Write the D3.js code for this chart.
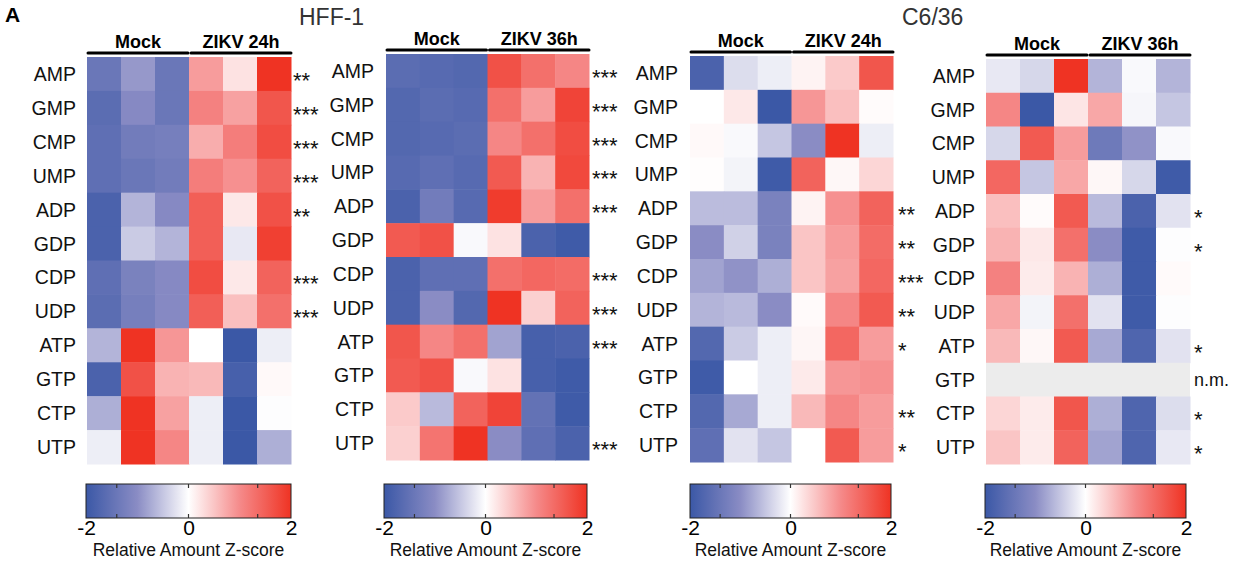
<!DOCTYPE html>
<html>
<head>
<meta charset="utf-8">
<script src="https://cdn.jsdelivr.net/npm/d3@7"></script>
<style>
  body { margin: 0; background: #fff; }
  svg { font-family: "Liberation Sans", Arial, Helvetica, sans-serif; }
</style>
</head>
<body>
<svg width="1239" height="567"></svg>
<script>
const rows = ['AMP', 'GMP', 'CMP', 'UMP', 'ADP', 'GDP', 'CDP', 'UDP', 'ATP', 'GTP', 'CTP', 'UTP'];
const groups24 = ['Mock', 'ZIKV 24h'];
const groups36 = ['Mock', 'ZIKV 36h'];
const legendTicks = [-2, 0, 2];
const legendMarks = [-1.4, 0, 1.35];

// z-scores, 3 mock + 3 ZIKV replicates per metabolite
const hff24 = [
  [-1.4, -0.9, -1.4, 0.85, 0.25, 2.0],
  [-1.6, -1.05, -1.4, 1.1, 0.8, 1.6],
  [-1.55, -1.3, -1.25, 0.7, 1.15, 1.7],
  [-1.55, -1.4, -1.3, 1.15, 0.95, 1.45],
  [-1.8, -0.65, -1.05, 1.5, 0.2, 1.65],
  [-1.8, -0.45, -0.65, 1.5, -0.2, 1.85],
  [-1.55, -1.2, -1.05, 1.7, 0.2, 1.45],
  [-1.6, -1.25, -1.05, 1.5, 0.55, 1.3],
  [-0.65, 2.0, 0.9, 0, -2.0, -0.15],
  [-1.8, 1.65, 0.65, 0.6, -1.85, 0.05],
  [-0.7, 2.0, 0.8, -0.15, -2.0, -0.02],
  [-0.15, 2.0, 1.05, -0.15, -2.0, -0.7]
];
const hff24Stars = ['**', '***', '***', '***', '**', '', '***', '***', '', '', '', ''];

const hff36 = [
  [-1.6, -1.65, -1.7, 1.65, 1.3, 1.05],
  [-1.7, -1.6, -1.65, 1.3, 0.85, 1.8],
  [-1.7, -1.65, -1.6, 1.05, 1.3, 1.7],
  [-1.65, -1.55, -1.65, 1.55, 0.65, 1.75],
  [-1.8, -1.3, -1.65, 1.9, 0.85, 1.3],
  [1.55, 1.65, -0.05, 0.25, -1.8, -1.95],
  [-1.8, -1.55, -1.55, 1.3, 1.4, 1.35],
  [-1.8, -1.0, -1.7, 2.0, 0.4, 1.45],
  [1.6, 1.05, 1.3, -0.8, -1.85, -1.8],
  [1.55, 1.65, -0.05, 0.25, -1.85, -1.95],
  [0.45, -0.6, 1.45, 1.8, -1.5, -1.95],
  [0.4, 1.25, 2.0, -1.0, -1.55, -1.8]
];
const hff36Stars = ['***', '***', '***', '***', '***', '', '***', '***', '***', '', '', '***'];

const c6h24 = [
  [-1.8, -0.3, -0.15, 0.1, 0.45, 1.6],
  [0, 0.2, -2.0, 0.9, 0.55, 0.03],
  [0.05, -0.05, -0.5, -1.0, 2.0, -0.15],
  [0.02, -0.1, -1.95, 1.45, 0.07, 0.35],
  [-0.58, -0.58, -1.2, 0.1, 0.95, 1.45],
  [-1.0, -0.4, -1.2, 0.5, 0.85, 1.35],
  [-0.8, -0.95, -0.7, 0.5, 0.8, 1.4],
  [-0.65, -0.6, -1.0, 0.04, 1.05, 1.55],
  [-1.7, -0.45, -0.15, 0.08, 1.4, 0.85],
  [-1.95, 0, -0.15, 0.18, 0.9, 0.95],
  [-1.7, -0.75, -0.15, 0.6, 1.05, 0.85],
  [-1.55, -0.25, -0.5, 0, 1.55, 0.85]
];
const c6h24Stars = ['', '', '', '', '**', '**', '***', '**', '*', '', '**', '*'];

const c6h36 = [
  [-0.2, -0.35, 2.0, -0.65, -0.05, -0.65],
  [1.05, -2.0, 0.22, 0.75, -0.08, -0.5],
  [-0.35, 1.55, 0.85, -1.35, -0.95, -0.05],
  [1.4, -0.5, 0.75, 0.07, -0.35, -1.95],
  [0.55, 0.03, 1.55, -0.6, -1.8, -0.25],
  [0.65, 0.2, 1.3, -1.0, -1.95, -0.02],
  [1.1, 0.17, 0.65, -0.7, -1.95, 0.04],
  [0.75, -0.1, 1.3, -0.25, -1.95, -0.02],
  [0.6, 0.07, 1.55, -0.75, -1.75, -0.25],
  null,
  [0.35, 0.17, 1.6, -0.7, -1.75, -0.3],
  [0.5, 0.17, 1.45, -0.8, -1.75, -0.2]
];
const c6h36Stars = ['', '', '', '', '*', '*', '', '', '*', 'n.m.', '*', '*'];

const svg = d3.select('svg');

const color = d3.scaleLinear()
  .domain([-2, -1, 0, 1, 2])
  .range(['#3b58a6', '#8a8cc4', '#ffffff', '#f58a8a', '#ef3323'])
  .clamp(true);

// gradient for the colour bars
const grad = svg.append('defs').append('linearGradient').attr('id', 'zgrad');
d3.range(-2, 2.01, 0.25).forEach(v => {
  grad.append('stop')
    .attr('offset', ((v + 2) / 4 * 100) + '%')
    .attr('stop-color', color(v));
});

const panels = [
  { data: hff24, stars: hff24Stars, groups: groups24, x0: 87, x1: 291, y0: 57, y1: 464, labelX: 76, starX: 293, barY: 53, lx0: 86, lx1: 291 },
  { data: hff36, stars: hff36Stars, groups: groups36, x0: 386, x1: 589, y0: 54, y1: 460, labelX: 374, starX: 592, barY: 50, lx0: 384, lx1: 587 },
  { data: c6h24, stars: c6h24Stars, groups: groups24, x0: 690, x1: 893, y0: 56, y1: 462, labelX: 678, starX: 898, barY: 52, lx0: 690, lx1: 891 },
  { data: c6h36, stars: c6h36Stars, groups: groups36, x0: 986, x1: 1190, y0: 59, y1: 464, labelX: 975, starX: 1194, barY: 55, lx0: 985, lx1: 1186 }
];

panels.forEach(p => {
  const g = svg.append('g');
  const x = d3.scaleBand().domain(d3.range(6)).range([p.x0, p.x1]);
  const y = d3.scaleBand().domain(rows).range([p.y0, p.y1]);

  rows.forEach((r, i) => {
    const vals = p.data[i];
    if (vals === null) {
      g.append('rect')
        .attr('x', p.x0).attr('y', y(r))
        .attr('width', p.x1 - p.x0).attr('height', y.bandwidth() + 0.5)
        .attr('fill', '#ececec');
      return;
    }
    g.selectAll(null)
      .data(vals)
      .enter()
      .append('rect')
      .attr('x', (d, j) => x(j))
      .attr('y', y(r))
      .attr('width', x.bandwidth() + 0.5)
      .attr('height', y.bandwidth() + 0.5)
      .attr('fill', d => color(d));
  });

  g.selectAll('.rowlabel')
    .data(rows)
    .enter()
    .append('text')
    .attr('class', 'rowlabel')
    .attr('x', p.labelX)
    .attr('y', d => y(d) + y.bandwidth() / 2)
    .attr('dy', '0.36em')
    .attr('text-anchor', 'end')
    .attr('font-size', 19.5)
    .attr('fill', '#111')
    .text(d => d);

  g.selectAll('.star')
    .data(p.stars)
    .enter()
    .append('text')
    .attr('class', 'star')
    .attr('x', p.starX)
    .attr('y', (d, i) => y(rows[i]) + y.bandwidth() / 2 + (d === 'n.m.' ? 6 : 14))
    .attr('font-size', d => d === 'n.m.' ? 18 : 22)
    .attr('fill', '#111')
    .text(d => d);

  // group bars and headers
  p.groups.forEach((name, k) => {
    const a = x(k * 3) + (k === 0 ? 1 : 2);
    const b = x(k * 3 + 2) + x.bandwidth() - (k === 0 ? 1 : 0);
    g.append('line')
      .attr('x1', a).attr('x2', b)
      .attr('y1', p.barY).attr('y2', p.barY)
      .attr('stroke', '#000')
      .attr('stroke-width', 3)
      .attr('stroke-linecap', 'round');
    g.append('text')
      .attr('x', (a + b) / 2)
      .attr('y', p.barY - 5)
      .attr('text-anchor', 'middle')
      .attr('font-size', 18)
      .attr('font-weight', 'bold')
      .text(name);
  });

  // colour bar legend
  const lx = d3.scaleLinear().domain([-2, 2]).range([p.lx0, p.lx1]);
  const lg = svg.append('g');
  lg.append('rect')
    .attr('x', p.lx0).attr('y', 484)
    .attr('width', p.lx1 - p.lx0).attr('height', 34)
    .attr('fill', 'url(#zgrad)')
    .attr('stroke', '#222')
    .attr('stroke-width', 1);
  legendMarks.forEach(v => {
    lg.append('line').attr('x1', lx(v)).attr('x2', lx(v)).attr('y1', 484).attr('y2', 488)
      .attr('stroke', '#333').attr('stroke-width', 1.2);
    lg.append('line').attr('x1', lx(v)).attr('x2', lx(v)).attr('y1', 514).attr('y2', 518)
      .attr('stroke', '#333').attr('stroke-width', 1.2);
  });
  const axis = lg.append('g')
    .attr('transform', 'translate(0,518)')
    .call(d3.axisBottom(lx).tickValues(legendTicks).tickSize(0).tickPadding(2).tickFormat(d3.format('d')));
  axis.select('.domain').remove();
  axis.selectAll('text')
    .attr('font-size', 21)
    .attr('font-family', '"Liberation Sans", Arial, sans-serif')
    .attr('fill', '#000')
    .text(d => d < 0 ? '-' + Math.abs(d) : d);
  lg.append('text')
    .attr('x', (p.lx0 + p.lx1) / 2)
    .attr('y', 556)
    .attr('text-anchor', 'middle')
    .attr('font-size', 17.5)
    .attr('fill', '#111')
    .text('Relative Amount Z-score');
});

svg.append('text').attr('x', 5).attr('y', 22).attr('font-size', 21).attr('font-weight', 'bold').text('A');
svg.append('text').attr('x', 299).attr('y', 25).attr('font-size', 23).attr('fill', '#333').text('HFF-1');
svg.append('text').attr('x', 902).attr('y', 25).attr('font-size', 23).attr('fill', '#333').text('C6/36');
</script>
</body>
</html>
